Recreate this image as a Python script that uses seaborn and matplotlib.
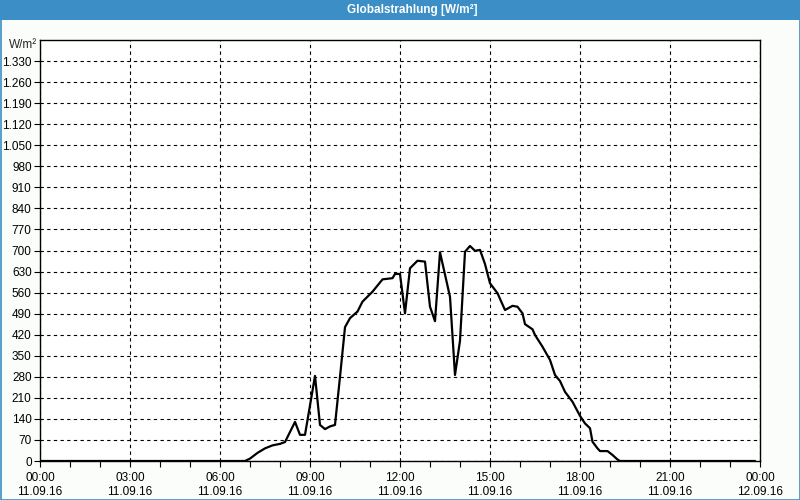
import matplotlib
matplotlib.use("Agg")
import matplotlib.pyplot as plt
import matplotlib.dates as mdates
from matplotlib.ticker import FixedLocator, FuncFormatter
from matplotlib.patches import Rectangle
import seaborn as sns
import pandas as pd

# ---- data ----
times = ["00:00", "06:50", "07:00", "07:15", "07:30", "07:45", "08:00", "08:10",
         "08:30", "08:40", "08:50", "09:10", "09:20", "09:30", "09:40", "09:50",
         "10:00", "10:10", "10:20", "10:35", "10:45", "11:05", "11:25", "11:45",
         "11:50", "12:00", "12:10", "12:20", "12:35", "12:50", "13:00", "13:10",
         "13:20", "13:30", "13:40", "13:50", "14:00", "14:10", "14:20", "14:30",
         "14:40", "14:50", "15:00", "15:15", "15:30", "15:45", "15:55", "16:05",
         "16:10", "16:25", "16:30", "16:45", "17:00", "17:10", "17:20", "17:30",
         "17:45", "18:00", "18:10", "18:20", "18:25", "18:35", "18:40", "18:55",
         "19:05", "19:15", "19:20", "23:50"]
values = [0, 0, 8, 27, 42, 52, 57, 63,
          130, 87, 87, 283, 120, 106, 115, 120,
          280, 445, 475, 497, 530, 563, 604, 608,
          622, 622, 491, 641, 666, 663, 513, 465,
          694, 620, 546, 286, 400, 696, 715, 699,
          702, 655, 591, 558, 502, 516, 513, 491,
          455, 438, 419, 380, 336, 286, 266, 230,
          197, 150, 125, 109, 64, 42, 33, 33,
          20, 5, 0, 0]
day = "2016-09-11"
y_ticks = list(range(0, 1331, 70))
title = "Globalstrahlung [W/m²]"
unit = "W/m²"

df = pd.DataFrame({"time": pd.to_datetime([f"{day} {t}" for t in times]),
                   "value": values})

sns.set_style("white")
plt.rcParams["font.family"] = ["Liberation Sans", "DejaVu Sans"]

fig = plt.figure(figsize=(8, 5), dpi=100)
fig.patch.set_facecolor("#fafdfa")

# title bar and border
fig.add_artist(Rectangle((0, 1 - 20 / 500), 1, 20 / 500, transform=fig.transFigure,
                         facecolor="#3b8fc6", edgecolor="none", zorder=0))
fig.add_artist(Rectangle((0.5 / 800, 0.5 / 500), 1 - 1 / 800, 1 - 1 / 500,
                         transform=fig.transFigure, facecolor="none",
                         edgecolor="#3b8fc6", linewidth=1.2, zorder=0))
fig.text(412 / 800, 1 - 10 / 500, title, color="white", ha="center", va="center",
         fontsize=8.5, fontweight="bold")

ax = fig.add_axes([40 / 800, 39 / 500, 720 / 800, 421 / 500])
ax.set_facecolor("white")
sns.lineplot(data=df, x="time", y="value", ax=ax, color="black", linewidth=1.6)

start = pd.Timestamp(f"{day} 00:00")
end = pd.Timestamp("2016-09-12 00:00")
ax.set_xlim(start, end)
ax.set_ylim(0, 1400)

ax.xaxis.set_major_locator(mdates.HourLocator(byhour=range(0, 24, 3)))
ax.xaxis.set_minor_locator(mdates.HourLocator())
ax.xaxis.set_major_formatter(mdates.DateFormatter("%H:%M\n%d.%m.%y"))
ax.yaxis.set_major_locator(FixedLocator(y_ticks))
ax.yaxis.set_major_formatter(FuncFormatter(lambda v, p: f"{int(v):,}".replace(",", ".")))

ax.grid(True, which="major", color="black", linestyle=(0, (3, 3)), linewidth=0.8)
ax.tick_params(axis="both", which="both", direction="out", length=4, width=0.8,
               labelsize=8.5, colors="black", bottom=True, left=True)
ax.tick_params(axis="x", which="major", pad=4)
ax.tick_params(axis="y", which="major", pad=2)
for s in ax.spines.values():
    s.set_color("black")
    s.set_linewidth(1)
ax.set_xlabel("")
ax.set_ylabel("")
ax.text(-3 / 720, 1400 - 15, unit, transform=ax.get_yaxis_transform(),
        ha="right", va="center", fontsize=8.5)

fig.savefig("out.png", dpi=100, facecolor=fig.get_facecolor())
